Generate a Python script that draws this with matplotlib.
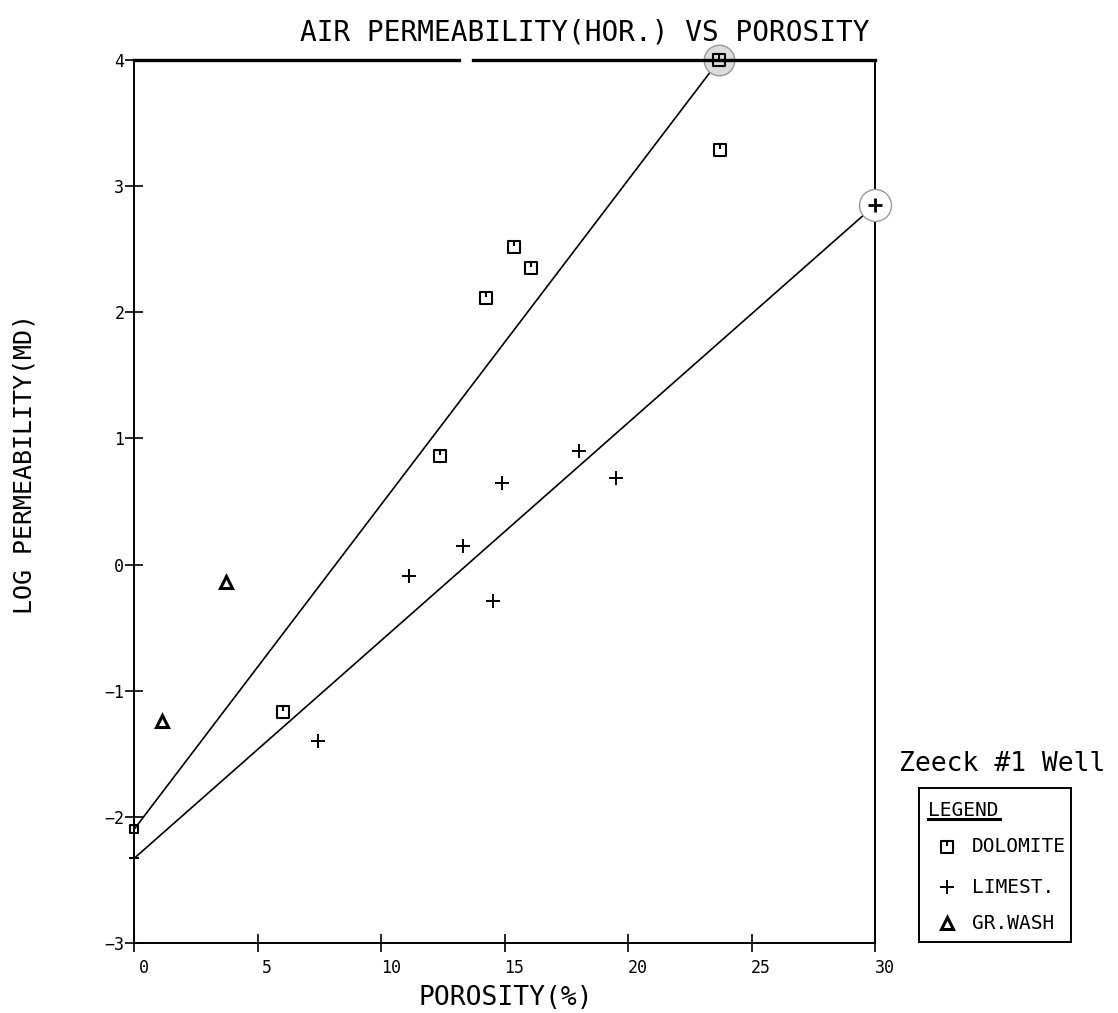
import matplotlib
matplotlib.use("Agg")
import matplotlib.pyplot as plt
from matplotlib.path import Path
from matplotlib.transforms import ScaledTranslation

plt.rcParams['font.family'] = 'DejaVu Sans Mono'

# core plug data: porosity (%) and log10 air permeability (md)
dolomite_por = [6.05, 12.4, 14.26, 15.37, 16.07, 23.72]
dolomite_logk = [-1.165, 0.86, 2.11, 2.52, 2.35, 3.29]
limest_por = [7.43, 11.14, 13.32, 14.53, 14.9, 18.0, 19.53]
limest_logk = [-1.395, -0.09, 0.147, -0.285, 0.645, 0.903, 0.69]
grwash_por = [1.12, 3.73]
grwash_logk = [-1.24, -0.138]

# trend lines (start / end points)
dolo_fit_por = [0.0, 23.7]
dolo_fit_logk = [-2.1, 4.0]
lime_fit_por = [0.0, 30.0]
lime_fit_logk = [-2.33, 2.85]

xticks = [0, 5, 10, 15, 20, 25, 30]
yticks = [-3, -2, -1, 0, 1, 2, 3, 4]

# square with a short notch from the top edge
dolo_marker = Path(
    [(-1, -1), (1, -1), (1, 1), (-1, 1), (-1, -1), (0, 1), (0, 0.15)],
    [Path.MOVETO, Path.LINETO, Path.LINETO, Path.LINETO, Path.CLOSEPOLY,
     Path.MOVETO, Path.LINETO])

W, H = 1118, 1013
fig = plt.figure(figsize=(W / 100, H / 100), dpi=100)
fig.patch.set_facecolor('white')
ax = fig.add_axes([134 / W, 1 - 943 / H, (875 - 134) / W, (943 - 60) / H])

ax.plot(dolo_fit_por, dolo_fit_logk, color='black', lw=1.2, zorder=2)
ax.plot(lime_fit_por, lime_fit_logk, color='black', lw=1.2, zorder=2)

# hand circled end points
ax.plot(dolo_fit_por[-1], dolo_fit_logk[-1], 'o', ms=22, mfc='#dcdcdc', mec='#999999',
        mew=1.0, clip_on=False, zorder=3)
ax.plot(lime_fit_por[-1], lime_fit_logk[-1], 'o', ms=23, mfc='white', mec='#9a9a9a',
        mew=1.0, clip_on=False, zorder=3)

sq = dict(marker=dolo_marker, ls='none', ms=9, mfc='none', mec='black', mew=1.5, clip_on=False, zorder=4)
pl = dict(marker='+', ls='none', ms=10, mec='black', mew=1.4, clip_on=False, zorder=4)
tr = dict(marker='^', ls='none', ms=8, mfc='none', mec='black', mew=2.2, clip_on=False, zorder=4)

ax.plot(dolomite_por, dolomite_logk, **sq)
ax.plot(dolo_fit_por[-1], dolo_fit_logk[-1], **sq)
ax.plot(dolo_fit_por[0], dolo_fit_logk[0], **dict(sq, ms=6))
ax.plot(limest_por, limest_logk, **pl)
ax.plot(lime_fit_por[-1], lime_fit_logk[-1], **dict(pl, mew=2.0))
ax.plot(lime_fit_por[0], lime_fit_logk[0], **dict(pl, ms=7))
ax.plot(grwash_por, grwash_logk, **tr)

ax.set_xlim(0, 30)
ax.set_ylim(-3, 4)
ax.set_xticks(xticks)
ax.set_yticks(yticks)
ax.tick_params(direction='inout', length=13, width=1.2, labelsize=12, color='black')
ax.tick_params(axis='x', pad=5)
ax.tick_params(axis='y', pad=0.5)
for lab in ax.get_xticklabels():
    lab.set_transform(lab.get_transform() + ScaledTranslation(7 / 72, 0, fig.dpi_scale_trans))

for side in ['left', 'right', 'bottom']:
    ax.spines[side].set_linewidth(1.4)
ax.spines['top'].set_visible(False)
# top border, broken where the copy lost it
ax.plot([0, 13.17], [4, 4], color='black', lw=2.4, clip_on=False, zorder=5)
ax.plot([13.74, 30], [4, 4], color='black', lw=2.4, clip_on=False, zorder=5)

fig.text(585 / W, 1 - 33 / H, 'AIR PERMEABILITY(HOR.) VS POROSITY', ha='center', va='center', fontsize=20)
fig.text(506 / W, 1 - 998 / H, 'POROSITY(%)', ha='center', va='center', fontsize=19)
fig.text(25 / W, 1 - 464 / H, 'LOG PERMEABILITY(MD)', ha='center', va='center', rotation=90, fontsize=18)
fig.text(1002 / W, 1 - 764 / H, 'Zeeck #1 Well', ha='center', va='center', fontsize=19)

# legend box
leg = fig.add_axes([919 / W, 1 - 942 / H, 152 / W, 154 / H])
leg.set_xlim(0, 1)
leg.set_ylim(0, 1)
leg.set_xticks([])
leg.set_yticks([])
for s in leg.spines.values():
    s.set_linewidth(1.4)
leg.text(0.06, 0.857, 'LEGEND', ha='left', va='center', fontsize=14)
leg.plot([0.06, 0.53], [0.80, 0.80], color='black', lw=2.2)
rows = [('DOLOMITE', sq), ('LIMEST.', pl), ('GR.WASH', tr)]
row_y = [0.617, 0.357, 0.123]
for (name, style), yy in zip(rows, row_y):
    leg.plot(0.184, yy, **dict(style, clip_on=True))
    leg.text(0.35, yy, name, ha='left', va='center', fontsize=14)

fig.savefig('out.png', dpi=100, facecolor='white')
